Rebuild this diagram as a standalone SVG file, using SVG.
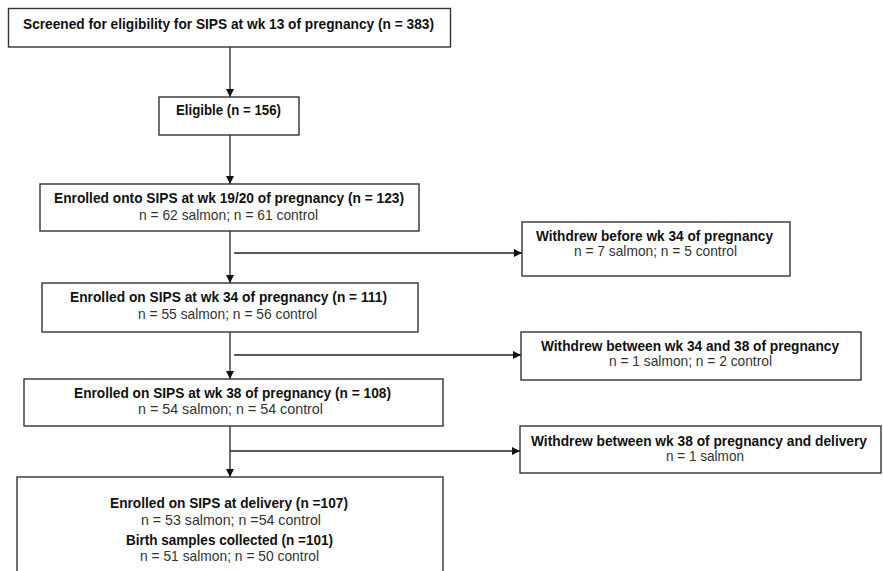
<svg xmlns="http://www.w3.org/2000/svg" width="883" height="571" viewBox="0 0 883 571">
<style>
.box{fill:#fff;stroke:#333;stroke-width:1.4}
.b{font-family:"Liberation Sans",Arial,sans-serif;font-weight:bold;font-size:15px;fill:#111}
.n{font-family:"Liberation Sans",Arial,sans-serif;font-size:14.5px;fill:#333}
.ln{fill:none;stroke:#222;stroke-width:1.3}
</style>
<defs>
<marker id="ah" viewBox="0 0 10 10" refX="10" refY="5" markerWidth="9" markerHeight="8" markerUnits="userSpaceOnUse" orient="auto">
<path d="M0,0 L10,5 L0,10 Z" fill="#111"/>
</marker>
</defs>
<rect width="883" height="571" fill="#fff"/>
<g id="connectors">
<line class="ln" x1="230" y1="47" x2="230" y2="97" marker-end="url(#ah)"/>
<line class="ln" x1="230" y1="135" x2="230" y2="184" marker-end="url(#ah)"/>
<line class="ln" x1="230" y1="231" x2="230" y2="283" marker-end="url(#ah)"/>
<line class="ln" x1="234" y1="253" x2="522" y2="253" marker-end="url(#ah)"/>
<line class="ln" x1="230" y1="332" x2="230" y2="379" marker-end="url(#ah)"/>
<line class="ln" x1="234" y1="355" x2="521" y2="355" marker-end="url(#ah)"/>
<line class="ln" x1="230" y1="426" x2="230" y2="477" marker-end="url(#ah)"/>
<line class="ln" x1="230" y1="451" x2="520" y2="451" marker-end="url(#ah)"/>
</g>
<g id="screened">
<rect class="box" x="8.5" y="8.5" width="442" height="38.5"/>
<text class="b" x="23" y="28.5" textLength="411" lengthAdjust="spacingAndGlyphs">Screened for eligibility for SIPS at wk 13 of pregnancy (n = 383)</text>
</g>
<g id="eligible">
<rect class="box" x="159" y="97" width="140" height="38"/>
<text class="b" x="176" y="115" textLength="105" lengthAdjust="spacingAndGlyphs">Eligible (n = 156)</text>
</g>
<g id="enrolled-19-20">
<rect class="box" x="40" y="184" width="379" height="47"/>
<text class="b" x="54" y="203" textLength="350" lengthAdjust="spacingAndGlyphs">Enrolled onto SIPS at wk 19/20 of pregnancy (n = 123)</text>
<text class="n" x="139" y="220" textLength="179" lengthAdjust="spacingAndGlyphs">n = 62 salmon; n = 61 control</text>
</g>
<g id="withdrew-before-34">
<rect class="box" x="522" y="222" width="268" height="54"/>
<text class="b" x="536" y="240.5" textLength="237" lengthAdjust="spacingAndGlyphs">Withdrew before wk 34 of pregnancy</text>
<text class="n" x="574" y="256" textLength="163" lengthAdjust="spacingAndGlyphs">n = 7 salmon; n = 5 control</text>
</g>
<g id="enrolled-34">
<rect class="box" x="42" y="283" width="376" height="49"/>
<text class="b" x="70" y="301.5" textLength="317" lengthAdjust="spacingAndGlyphs">Enrolled on SIPS at wk 34 of pregnancy (n = 111)</text>
<text class="n" x="138" y="318.5" textLength="179" lengthAdjust="spacingAndGlyphs">n = 55 salmon; n = 56 control</text>
</g>
<g id="withdrew-34-38">
<rect class="box" x="521" y="332" width="340" height="48"/>
<text class="b" x="541" y="350.5" textLength="298" lengthAdjust="spacingAndGlyphs">Withdrew between wk 34 and 38 of pregnancy</text>
<text class="n" x="609" y="365.5" textLength="163" lengthAdjust="spacingAndGlyphs">n = 1 salmon; n = 2 control</text>
</g>
<g id="enrolled-38">
<rect class="box" x="24" y="379" width="419" height="47"/>
<text class="b" x="74" y="397.5" textLength="317" lengthAdjust="spacingAndGlyphs">Enrolled on SIPS at wk 38 of pregnancy (n = 108)</text>
<text class="n" x="138" y="414" textLength="185" lengthAdjust="spacingAndGlyphs">n = 54 salmon; n = 54 control</text>
</g>
<g id="withdrew-38-delivery">
<rect class="box" x="520" y="426" width="361" height="47"/>
<text class="b" x="531" y="445.5" textLength="336" lengthAdjust="spacingAndGlyphs">Withdrew between wk 38 of pregnancy and delivery</text>
<text class="n" x="666" y="461" textLength="78" lengthAdjust="spacingAndGlyphs">n = 1 salmon</text>
</g>
<g id="enrolled-delivery">
<rect class="box" x="17" y="477" width="426" height="110"/>
<text class="b" x="110" y="507.5" textLength="238" lengthAdjust="spacingAndGlyphs">Enrolled on SIPS at delivery (n =107)</text>
<text class="n" x="141" y="524.5" textLength="180" lengthAdjust="spacingAndGlyphs">n = 53 salmon; n =54 control</text>
<text class="b" x="126" y="544.5" textLength="207" lengthAdjust="spacingAndGlyphs">Birth samples collected (n =101)</text>
<text class="n" x="140" y="561" textLength="179" lengthAdjust="spacingAndGlyphs">n = 51 salmon; n = 50 control</text>
</g>
</svg>
